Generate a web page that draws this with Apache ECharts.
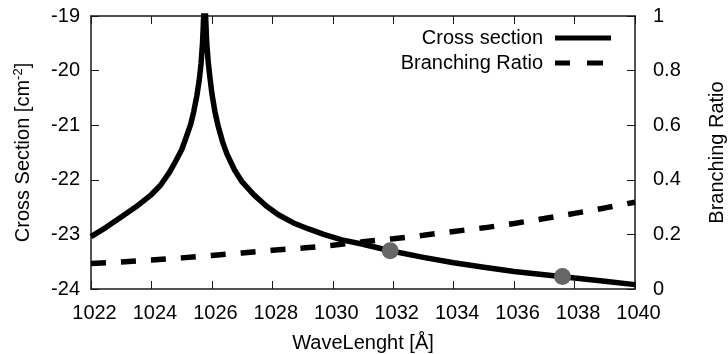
<!DOCTYPE html>
<html>
<head>
<meta charset="utf-8">
<script src="https://cdn.jsdelivr.net/npm/echarts@6/dist/echarts.min.js"></script>
<style>
html,body{margin:0;padding:0;background:#fff;}
#c{width:728px;height:354px;}
</style>
</head>
<body>
<div id="c"></div>
<script>
// Cross section (log10, cm^-2) vs wavelength (Å)
const csWave = [1022.0,1022.5,1023.0,1023.5,1024.0,1024.3,1024.6,1024.8,1025.0,1025.15,1025.3,1025.4,1025.5,1025.58,1025.64,1025.69,1025.76,
  1025.83,1025.88,1025.94,1026.0,1026.1,1026.2,1026.35,1026.5,1026.75,1027.0,1027.4,1027.8,1028.2,1028.7,1029.2,1029.7,1030.3,1031.0,1031.9,1033.0,1034.0,1035.0,1036.0,1037.0,1038.0,1039.0,1040.0];
const csValue = [-23.04,-22.87,-22.68,-22.49,-22.27,-22.10,-21.86,-21.66,-21.45,-21.22,-20.98,-20.75,-20.47,-20.18,-19.88,-19.5,-18.6,
  -19.5,-19.85,-20.15,-20.42,-20.75,-21.0,-21.3,-21.53,-21.82,-22.04,-22.28,-22.48,-22.64,-22.79,-22.90,-23.00,-23.10,-23.18,-23.30,-23.42,-23.52,-23.60,-23.68,-23.74,-23.80,-23.86,-23.92];
// Branching ratio vs wavelength
const brWave = [1022,1023,1024,1025,1026,1027,1028,1029,1030,1031,1032,1033,1034,1035,1036,1037,1038,1039,1040];
const brValue = [0.093,0.099,0.106,0.114,0.123,0.132,0.142,0.150,0.160,0.173,0.184,0.197,0.211,0.224,0.240,0.258,0.277,0.297,0.318];
// Marked points on the cross-section curve
const dotWave = [1031.9,1037.6];
const dotValue = [-23.30,-23.77];

const xTicks = {min:1022,max:1040,interval:2};
const leftTicks = {min:-24,max:-19,interval:1};
const rightTicks = {min:0,max:1,interval:0.2};

const FONT = 'Liberation Sans, Arial, Helvetica, sans-serif';
const FS = 20;
const zip = (a,b)=>a.map((v,i)=>[v,b[i]]);

const chart = echarts.init(document.getElementById('c'), null, {renderer:'canvas'});
const axisLine = {show:true, lineStyle:{color:'#1a1a1a', width:1.5}};
const axisTick = {show:true, inside:true, length:8, lineStyle:{color:'#1a1a1a', width:1}};
const lbl = {color:'#000', fontSize:FS, fontFamily:FONT};

chart.setOption({
  animation:false,
  backgroundColor:'#fff',
  grid:{left:91, right:93, top:16, bottom:65, containLabel:false, outerBoundsMode:'none'},
  legend:{
    data:[
      {name:'Cross section', icon:'rect'},
      {name:'Branching Ratio', icon:'path://M0,0H15V5H0Z M32,0H48V5H32Z M55.9,2.4H56V2.6H55.9Z'}
    ],
    orient:'vertical', right:112, top:23, align:'right',
    itemWidth:56, itemHeight:5, itemGap:5, symbolKeepAspect:false,
    itemStyle:{color:'#000', borderWidth:0},
    textStyle:{color:'#000', fontSize:FS, fontFamily:FONT, padding:[0,7,0,0]}
  },
  xAxis:[{
    type:'value', min:xTicks.min, max:xTicks.max, interval:xTicks.interval, position:'bottom',
    axisLine, axisTick, splitLine:{show:false},
    axisLabel:Object.assign({margin:14, padding:[0,0,0,7], formatter:(v)=>String(v)}, lbl),
    name:'WaveLenght [Å]', nameLocation:'middle', nameGap:44,
    nameTextStyle:{color:'#000', fontSize:FS, fontFamily:FONT}
  },{
    type:'value', min:xTicks.min, max:xTicks.max, interval:xTicks.interval, position:'top',
    axisLine, axisTick, splitLine:{show:false}, axisLabel:{show:false}
  }],
  yAxis:[{
    type:'value', min:leftTicks.min, max:leftTicks.max, interval:leftTicks.interval, position:'left',
    axisLine, axisTick, splitLine:{show:false},
    axisLabel:Object.assign({margin:11, formatter:(v)=>String(v)}, lbl),
    name:'Cross Section [cm{sup|-2}]', nameLocation:'middle', nameGap:57, nameRotate:90,
    nameTextStyle:{color:'#000', fontSize:FS, fontFamily:FONT,
      rich:{sup:{fontSize:13, fontFamily:FONT, color:'#000', padding:[0,0,9,0]}}}
  },{
    type:'value', min:rightTicks.min, max:rightTicks.max, interval:rightTicks.interval, position:'right',
    axisLine, axisTick, splitLine:{show:false},
    axisLabel:Object.assign({margin:18, formatter:(v)=>String(Math.round(v*10)/10)}, lbl),
    name:'Branching Ratio', nameLocation:'middle', nameGap:72, nameRotate:90,
    nameTextStyle:{color:'#000', fontSize:FS, fontFamily:FONT}
  }],
  series:[{
    name:'Cross section', type:'line', xAxisIndex:0, yAxisIndex:0,
    data:zip(csWave,csValue), showSymbol:false, symbol:'none', clip:true,
    lineStyle:{color:'#000', width:5.5, cap:'butt', join:'round'}, itemStyle:{color:'#000'}, z:3
  },{
    name:'Branching Ratio', type:'line', xAxisIndex:0, yAxisIndex:1,
    data:zip(brWave,brValue), showSymbol:false, symbol:'none', clip:true,
    lineStyle:{color:'#000', width:5.5, type:[15,15], cap:'butt'}, itemStyle:{color:'#000'}, z:3
  },{
    name:'points', type:'scatter', xAxisIndex:0, yAxisIndex:0,
    data:zip(dotWave,dotValue), symbol:'circle', symbolSize:17,
    itemStyle:{color:'#666666', opacity:1}, z:5
  }]
});
</script>
</body>
</html>
